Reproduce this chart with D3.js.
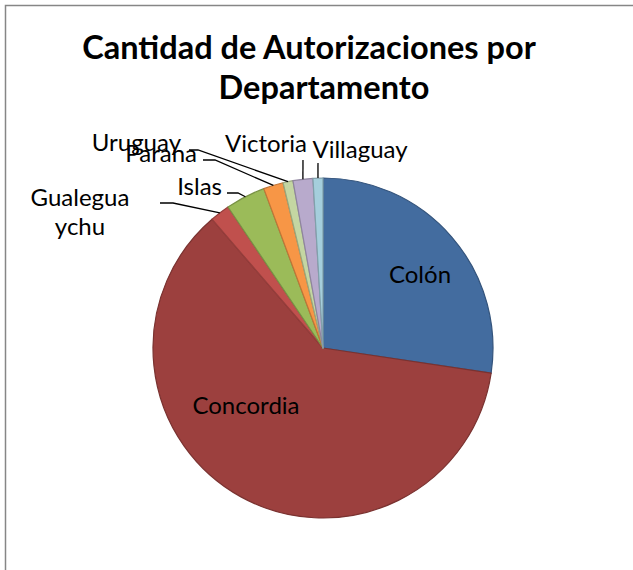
<!DOCTYPE html>
<html>
    <head>
        <title>Cantidad de Autorizaciones por Departamento</title>
        <script src="https://d3js.org/d3.v7.min.js"></script>
        <style>
            body { margin: 0; background: #fff; }
            text { font-family: Lato, "Open Sans", sans-serif; fill: #000; }
        </style>
    </head>
    <body>
        <script>
            const departamentos = ["Colón", "Concordia", "Gualeguaychu", "Islas", "Parana", "Uruguay", "Victoria", "Villaguay"];
            const autorizaciones = [29, 65, 2, 4, 2, 1, 2, 1];
            const colores = ["#436c9f", "#9c403e", "#c0504d", "#9bbb59", "#f79646", "#c4d6a2", "#b8aacc", "#a5cedc"];
            const titulo = ["Cantidad de Autorizaciones por", "Departamento"];

            const width = 633;
            const height = 570;
            const cx = 323, cy = 348, radius = 170;

            // where Excel put the labels (text anchor, baseline, elbow of the leader)
            const labelLayout = {
                "Colón":        { x: 420, y: 283, anchor: "middle", lines: ["Colón"] },
                "Concordia":    { x: 246, y: 414, anchor: "middle", lines: ["Concordia"] },
                "Gualeguaychu": { x: 80,  y: 206, anchor: "middle", lines: ["Gualegua", "ychu"], leader: [[160, 203], [173, 203]] },
                "Islas":        { x: 222, y: 195, anchor: "end", lines: ["Islas"], leader: [[227, 193], [238, 193]] },
                "Parana":       { x: 197, y: 162, anchor: "end", lines: ["Parana"], leader: [[203, 160], [215, 160]] },
                "Uruguay":      { x: 181, y: 151, anchor: "end", lines: ["Uruguay"], leader: [[189, 150], [198, 150]] },
                "Victoria":     { x: 266, y: 152, anchor: "middle", lines: ["Victoria"], leader: [[303, 160]] },
                "Villaguay":    { x: 360, y: 158, anchor: "middle", lines: ["Villaguay"], leader: [[318, 163]] }
            };

            const svg = d3.select("body")
                .append("svg")
                .attr("width", width)
                .attr("height", height);

            svg.append("rect")
                .attr("x", 5.5)
                .attr("y", 5.5)
                .attr("width", 800)
                .attr("height", 800)
                .attr("fill", "none")
                .attr("stroke", "#868686")
                .attr("stroke-width", 1.5);

            svg.selectAll("text.titulo")
                .data(titulo)
                .enter()
                .append("text")
                .attr("class", "titulo")
                .attr("x", (d, i) => i == 0 ? 309 : 324)
                .attr("y", (d, i) => 59 + i * 40)
                .attr("text-anchor", "middle")
                .attr("font-size", 32.5)
                .attr("font-weight", "bold")
                .text(d => d);

            const color = d3.scaleOrdinal()
                .domain(departamentos)
                .range(colores);

            const pie = d3.pie()
                .sort(null)
                .value(d => d.value);

            const datos = departamentos.map((d, i) => ({ name: d, value: autorizaciones[i] }));
            const arcs = pie(datos);

            const arc = d3.arc()
                .innerRadius(0)
                .outerRadius(radius);

            const edge = d3.arc()
                .innerRadius(radius)
                .outerRadius(radius);

            const g = svg.append("g")
                .attr("transform", `translate(${cx},${cy})`);

            g.selectAll("path")
                .data(arcs)
                .enter()
                .append("path")
                .attr("d", arc)
                .attr("fill", d => color(d.data.name))
                .attr("stroke", d => d3.color(color(d.data.name)).darker(0.7))
                .attr("stroke-width", 1.2)
                .attr("stroke-linejoin", "round");

            // leader lines
            const line = d3.line();
            svg.selectAll("path.leader")
                .data(arcs.filter(d => labelLayout[d.data.name].leader))
                .enter()
                .append("path")
                .attr("class", "leader")
                .attr("fill", "none")
                .attr("stroke", "#000")
                .attr("stroke-width", 1.3)
                .attr("d", d => {
                    const c = edge.centroid(d);
                    const pts = labelLayout[d.data.name].leader.slice();
                    pts.push([cx + c[0], cy + c[1]]);
                    return line(pts);
                });

            const labels = svg.selectAll("text.etiqueta")
                .data(arcs)
                .enter()
                .append("text")
                .attr("class", "etiqueta")
                .attr("x", d => labelLayout[d.data.name].x)
                .attr("y", d => labelLayout[d.data.name].y)
                .attr("text-anchor", d => labelLayout[d.data.name].anchor)
                .attr("font-size", 24);

            labels.selectAll("tspan")
                .data(d => labelLayout[d.data.name].lines.map(t => ({ t, x: labelLayout[d.data.name].x })))
                .enter()
                .append("tspan")
                .attr("x", d => d.x)
                .attr("dy", (d, i) => i == 0 ? 0 : 29)
                .text(d => d.t);
        </script>
    </body>
</html>
